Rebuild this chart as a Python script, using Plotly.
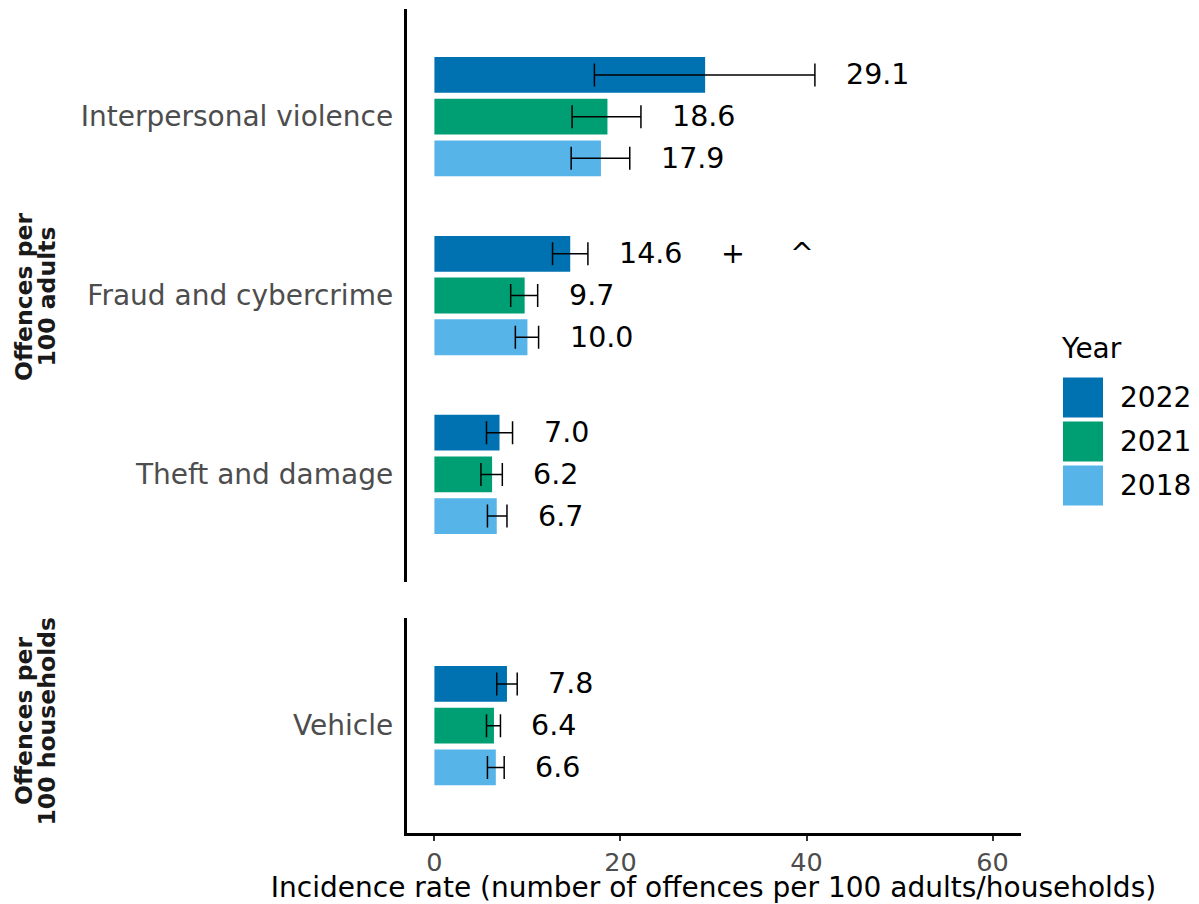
import plotly.graph_objects as go

# ---- data -------------------------------------------------------------
years = ["2022", "2021", "2018"]
colors = {"2022": "#0072B2", "2021": "#009E73", "2018": "#56B4E9"}

adult_cats = ["Interpersonal violence", "Fraud and cybercrime", "Theft and damage"]
household_cats = ["Vehicle"]

# incidence rate per 100 adults / households, by year
rate = {
    "2022": [29.1, 14.6, 7.0, 7.8],
    "2021": [18.6, 9.7, 6.2, 6.4],
    "2018": [17.9, 10.0, 6.7, 6.6],
}
# 95% confidence limits
ci_low = {
    "2022": [17.2, 12.7, 5.6, 6.7],
    "2021": [14.8, 8.2, 5.0, 5.6],
    "2018": [14.7, 8.7, 5.7, 5.7],
}
ci_high = {
    "2022": [40.9, 16.5, 8.4, 8.9],
    "2021": [22.2, 11.1, 7.3, 7.1],
    "2018": [21.0, 11.2, 7.8, 7.5],
}
# significance flags shown after a value label: (category, year, symbols)
sig_flags = [("Fraud and cybercrime", "2022", ["+", "^"])]

x_ticks = [0, 20, 40, 60]
x_title = "Incidence rate (number of offences per 100 adults/households)"
strip_adults = ["Offences per", "100 adults"]
strip_households = ["Offences per", "100 households"]

# ---- geometry helpers -------------------------------------------------
W, H = 1199, 904
FONT = "DejaVu Sans"
GREY = "#4D4D4D"


def px(x):
    return x / W


def py(y):
    return 1 - y / H


BARGAP = 0.3
SLOT = (1 - BARGAP) / len(years)

panels = [
    ("y", adult_cats, slice(0, 3)),
    ("y2", household_cats, slice(3, 4)),
]

fig = go.Figure()

for j, yr in enumerate(years):
    for yref, cats, sl in panels:
        vals = rate[yr][sl]
        lo = ci_low[yr][sl]
        hi = ci_high[yr][sl]
        fig.add_trace(go.Bar(
            x=vals, y=cats, orientation="h", yaxis=yref, xaxis="x",
            name=yr, showlegend=False,
            marker=dict(color=colors[yr], line=dict(width=0)),
            error_x=dict(
                type="data", symmetric=False,
                array=[h - v for h, v in zip(hi, vals)],
                arrayminus=[v - l for v, l in zip(vals, lo)],
                color="black", thickness=1.5, width=11.5,
            ),
        ))
        # value labels, right of the upper confidence limit
        for i, (v, h) in enumerate(zip(vals, hi)):
            fig.add_annotation(
                x=h, y=i + (j - 1) * SLOT, xref="x", yref=yref,
                text=f"{v:.1f}", showarrow=False, xanchor="left",
                xshift=29, font=dict(family=FONT, size=28.5, color="black"),
            )

# significance symbols
for cat, yr, syms in sig_flags:
    j = years.index(yr)
    i = adult_cats.index(cat)
    h = ci_high[yr][i]
    for k, s in enumerate(syms):
        fig.add_annotation(
            x=h, y=i + (j - 1) * SLOT, xref="x", yref="y",
            text=s, showarrow=False, xanchor="center",
            xshift=145 + 69 * k, font=dict(family=FONT, size=28.5, color="black"),
        )

# facet strip labels (rotated, two lines each)
for lines, yc in [(strip_adults, 297), (strip_households, 721)]:
    for k, t in enumerate(lines):
        fig.add_annotation(
            x=px(24 + 22.5 * k), y=py(yc), xref="paper", yref="paper",
            text=f"<b>{t}</b>", textangle=-90, showarrow=False,
            xanchor="center", yanchor="middle",
            font=dict(family=FONT, size=23.5, color="#1A1A1A"),
        )

# legend drawn as keys + labels
fig.add_annotation(
    x=px(1059), y=py(348), xref="paper", yref="paper", text="Year",
    showarrow=False, xanchor="left", yanchor="middle",
    font=dict(family=FONT, size=28, color="black"),
)
for k, yr in enumerate(years):
    top = 377 + 44 * k
    fig.add_shape(
        type="rect", xref="paper", yref="paper",
        x0=px(1062.5), x1=px(1103.5), y0=py(top + 41), y1=py(top),
        fillcolor=colors[yr], line=dict(width=1, color="white"),
    )
    fig.add_annotation(
        x=px(1118), y=py(top + 20.5), xref="paper", yref="paper", text=yr,
        showarrow=False, xanchor="left", yanchor="middle",
        font=dict(family=FONT, size=28, color="black"),
    )

axis_common = dict(
    showgrid=False, zeroline=False, showline=True,
    linecolor="black", linewidth=2.5,
)

fig.update_layout(
    width=W, height=H,
    margin=dict(l=0, r=0, t=0, b=0),
    paper_bgcolor="white", plot_bgcolor="white",
    barmode="group", bargap=BARGAP, bargroupgap=1 / 7,
    font=dict(family=FONT),
    xaxis=dict(
        **axis_common,
        domain=[px(406.5), px(1020.5)], range=[-3, 63], anchor="y2",
        tickvals=x_ticks, ticks="outside", ticklen=5, tickwidth=2,
        tickcolor="#333333", ticklabelstandoff=0,
        tickfont=dict(family=FONT, size=25.5, color=GREY),
        title=dict(text=x_title, standoff=2,
                   font=dict(family=FONT, size=28, color="black")),
    ),
    yaxis=dict(
        **axis_common,
        domain=[py(581.7), py(9.3)], anchor="x",
        type="category", categoryorder="array", categoryarray=adult_cats,
        range=[2.6, -0.6], ticks="", ticklabelstandoff=5,
        tickfont=dict(family=FONT, size=28, color=GREY),
    ),
    yaxis2=dict(
        **axis_common,
        domain=[py(833), py(618.3)], anchor="x",
        type="category", categoryorder="array", categoryarray=household_cats,
        range=[0.6, -0.6], ticks="", ticklabelstandoff=5,
        tickfont=dict(family=FONT, size=28, color=GREY),
    ),
)

fig.write_html("out.html")
